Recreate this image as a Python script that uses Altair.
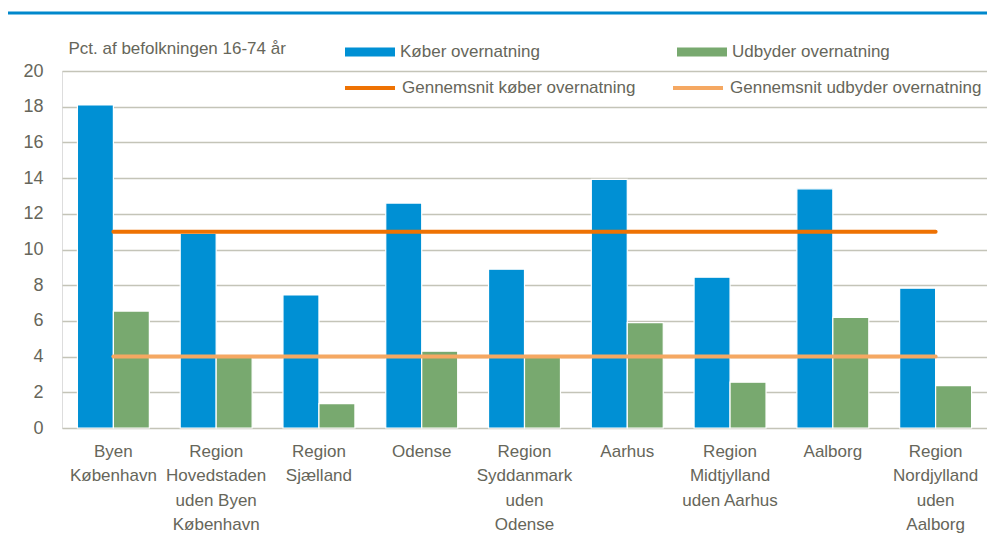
import altair as alt
import pandas as pd

FONT = "Liberation Sans, Arial, sans-serif"
TXT = "#66665a"
FS = 17

categories = [
    "Byen|København",
    "Region|Hovedstaden|uden Byen|København",
    "Region|Sjælland",
    "Odense",
    "Region|Syddanmark|uden|Odense",
    "Aarhus",
    "Region|Midtjylland|uden Aarhus",
    "Aalborg",
    "Region|Nordjylland|uden|Aalborg",
]
koeber = [18.1, 10.9, 7.45, 12.6, 8.9, 13.93, 8.45, 13.4, 7.83]
udbyder = [6.55, 3.95, 1.36, 4.3, 3.95, 5.9, 2.57, 6.2, 2.37]
gns_koeber = [11.0, 11.0, 11.0, 11.0, 11.0, 11.0, 11.0, 11.0, 11.0]
gns_udbyder = [4.0, 4.0, 4.0, 4.0, 4.0, 4.0, 4.0, 4.0, 4.0]
y_ticks = [0, 2, 4, 6, 8, 10, 12, 14, 16, 18, 20]

bar_series = ["Køber overnatning", "Udbyder overnatning"]
line_series = ["Gennemsnit køber overnatning", "Gennemsnit udbyder overnatning"]

bars = pd.DataFrame(
    [{"kat": c, "serie": bar_series[0], "v": v} for c, v in zip(categories, koeber)]
    + [{"kat": c, "serie": bar_series[1], "v": v} for c, v in zip(categories, udbyder)]
)
lines = pd.DataFrame(
    [{"kat": c, "gns": line_series[0], "v": v} for c, v in zip(categories, gns_koeber)]
    + [{"kat": c, "gns": line_series[1], "v": v} for c, v in zip(categories, gns_udbyder)]
)

xenc = alt.X(
    "kat:N",
    sort=categories,
    scale=alt.Scale(paddingInner=0.3, paddingOuter=0.15),
    axis=alt.Axis(
        title=None,
        labelAngle=0,
        labelExpr="split(datum.label, '|')",
        labelFont=FONT,
        labelFontSize=FS,
        labelColor=TXT,
        labelLineHeight=24.5,
        labelBaseline="top",
        labelPadding=15,
        ticks=False,
        domain=False,
        grid=False,
    ),
)

yenc = alt.Y(
    "v:Q",
    scale=alt.Scale(domain=[0, 20]),
    axis=alt.Axis(
        values=y_ticks,
        labelOverlap=False,
        title="Pct. af befolkningen 16-74 år",
        titleAngle=0,
        titleAlign="left",
        titleBaseline="middle",
        titleX=6,
        titleY=-23,
        titleFont=FONT,
        titleFontSize=FS,
        titleFontWeight="normal",
        titleColor=TXT,
        labelFont=FONT,
        labelFontSize=FS + 1,
        labelColor=TXT,
        labelPadding=19,
        ticks=False,
        domain=False,
        grid=True,
        gridColor="#c4c4b8",
        gridWidth=1.6,
    ),
)

legend_common = dict(
    title=None,
    orient="none",
    direction="horizontal",
    columns=2,
    symbolSize=2500,
    labelFont=FONT,
    labelFontSize=FS,
    labelColor=TXT,
    labelOffset=5,
    labelLimit=400,
)

bar_layer = alt.Chart(bars).mark_bar(stroke="white", strokeWidth=1.2).encode(
    x=xenc,
    xOffset=alt.XOffset("serie:N", sort=bar_series, scale=alt.Scale(paddingInner=0, paddingOuter=0)),
    y=yenc,
    fill=alt.Fill(
        "serie:N",
        scale=alt.Scale(domain=bar_series, range=["#0090d4", "#78a96f"]),
        legend=alt.Legend(
            legendX=283,
            legendY=-44,
            columnPadding=137,
            symbolType="M-1,-0.18H1V0.18H-1Z",
            symbolStrokeWidth=0,
            **legend_common,
        ),
    ),
)

line_layer = alt.Chart(lines).mark_line(strokeWidth=4, strokeCap="round").encode(
    x=xenc,
    y=yenc,
    stroke=alt.Stroke(
        "gns:N",
        scale=alt.Scale(domain=line_series, range=["#ee7203", "#f5a862"]),
        legend=alt.Legend(
            legendX=281,
            legendY=-10,
            columnPadding=29,
            symbolType="stroke",
            symbolStrokeWidth=4,
            **legend_common,
        ),
    ),
)

top_rule = alt.Chart(pd.DataFrame({"a": [0]})).mark_rule(
    color="#0088cc", strokeWidth=3
).encode(x=alt.value(-57), x2=alt.value(940), y=alt.value(-58))

chart = (
    alt.layer(bar_layer, line_layer, top_rule)
    .resolve_legend(fill="independent", stroke="independent")
    .properties(
        width=925,
        height=357,
        autosize=alt.AutoSizeParams(type="none"),
        padding={"left": 54, "top": 63, "right": 0, "bottom": 105},
    )
    .configure_view(stroke=None)
    .configure_axisY(labelOverlap=False)
    .configure(background="white")
)

chart.save("out.html", embed_options={"renderer": "svg", "actions": False})
